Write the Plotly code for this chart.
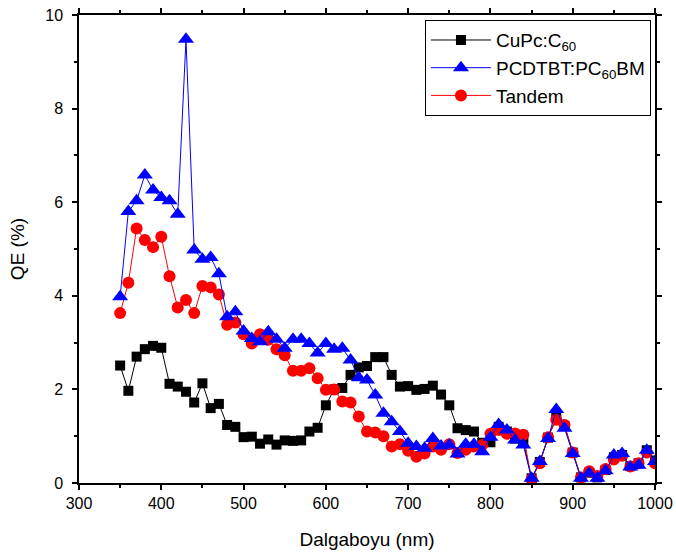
import plotly.graph_objects as go

wavelength = list(range(350, 1001, 10))

cupc = [2.51, 1.97, 2.70, 2.86, 2.93, 2.89, 2.12, 2.06, 1.95, 1.72,
        2.13, 1.60, 1.69, 1.24, 1.20, 0.98, 0.99, 0.84, 0.93, 0.82,
        0.91, 0.90, 0.91, 1.10, 1.18, 1.66, 2.00, 2.03, 2.31, 2.47,
        2.50, 2.69, 2.69, 2.31, 2.06, 2.07, 1.99, 2.01, 2.08, 1.89,
        1.66, 1.17, 1.13, 1.10, 0.86, 0.87, 1.20, 1.10, 0.95, 0.88,
        0.10, 0.45, 0.97, 1.40, 1.22, 0.65, 0.12, 0.22, 0.12, 0.28,
        0.55, 0.60, 0.36, 0.42, 0.70, 0.48]

pcdtbt = [3.98, 5.80, 6.03, 6.58, 6.26, 6.10, 6.03, 5.74, 9.48, 4.98,
          4.78, 4.82, 4.47, 3.55, 3.66, 3.25, 3.09, 3.02, 3.23, 3.07,
          2.88, 3.07, 3.07, 2.98, 2.78, 2.98, 2.86, 2.88, 2.63, 2.25,
          2.20, 1.88, 1.49, 1.31, 1.10, 0.85, 0.78, 0.74, 0.95, 0.79,
          0.81, 0.62, 0.83, 0.83, 0.67, 0.98, 1.25, 1.13, 0.92, 0.81,
          0.10, 0.46, 0.95, 1.57, 1.17, 0.63, 0.10, 0.21, 0.10, 0.26,
          0.60, 0.63, 0.34, 0.38, 0.70, 0.46]

tandem = [3.63, 4.28, 5.44, 5.19, 5.04, 5.26, 4.42, 3.75, 3.91, 3.63,
          4.21, 4.18, 4.03, 3.38, 3.43, 3.18, 2.98, 3.18, 3.06, 2.86,
          2.73, 2.40, 2.40, 2.45, 2.24, 1.99, 2.00, 1.74, 1.72, 1.42,
          1.10, 1.08, 1.00, 0.78, 0.83, 0.69, 0.56, 0.63, 0.78, 0.71,
          0.83, 0.64, 0.71, 0.78, 0.81, 1.05, 1.13, 1.05, 1.06, 1.03,
          0.08, 0.42, 0.98, 1.35, 1.24, 0.65, 0.12, 0.25, 0.15, 0.30,
          0.50, 0.58, 0.35, 0.42, 0.65, 0.42]

names = ["CuPc:C<sub>60</sub>", "PCDTBT:PC<sub>60</sub>BM", "Tandem"]

fig = go.Figure()
fig.add_trace(go.Scatter(x=wavelength, y=cupc, name=names[0], mode="lines+markers",
                         line=dict(color="black", width=1),
                         marker=dict(symbol="square", size=10, color="black"),
                         legendrank=1))
fig.add_trace(go.Scatter(x=wavelength, y=tandem, name=names[2], mode="lines+markers",
                         line=dict(color="red", width=1),
                         marker=dict(symbol="circle", size=12, color="red"),
                         legendrank=3))
fig.add_trace(go.Scatter(x=wavelength, y=pcdtbt, name=names[1], mode="lines+markers",
                         line=dict(color="blue", width=1),
                         marker=dict(symbol="triangle-up", size=14, color="blue"),
                         legendrank=2))

font = "Liberation Sans, Arial, sans-serif"
fig.update_layout(
    width=676, height=556,
    margin=dict(l=79, r=21, t=15, b=73),
    plot_bgcolor="white", paper_bgcolor="white",
    font=dict(family=font, color="black", size=16),
    showlegend=True,
    legend=dict(x=0.993, y=0.989, xanchor="right", yanchor="top",
                bordercolor="black", borderwidth=1, bgcolor="white",
                font=dict(size=19, family=font), tracegroupgap=0,
                itemwidth=60),
)
fig.update_xaxes(range=[300, 1000], dtick=100, tick0=300, automargin=False,
                 showline=True, linecolor="black", linewidth=1.5, mirror="ticks",
                 ticks="outside", ticklen=5, tickwidth=1.5, tickcolor="black",
                 minor=dict(dtick=50, ticks="outside", ticklen=3, tickwidth=1.5, tickcolor="black"),
                 showgrid=False, zeroline=False,
                 tickfont=dict(size=16),
                 title=dict(text="Dalgaboyu (nm)", font=dict(size=19), standoff=22))
fig.update_yaxes(range=[0, 10], dtick=2, automargin=False,
                 showline=True, linecolor="black", linewidth=1.5, mirror="ticks",
                 ticks="outside", ticklen=5, tickwidth=1.5, tickcolor="black",
                 minor=dict(dtick=1, ticks="outside", ticklen=3, tickwidth=1.5, tickcolor="black"),
                 showgrid=False, zeroline=False,
                 tickfont=dict(size=16), ticklabelstandoff=6,
                 title=dict(text="QE (%)", font=dict(size=19), standoff=16))

fig.write_html("out.html")
